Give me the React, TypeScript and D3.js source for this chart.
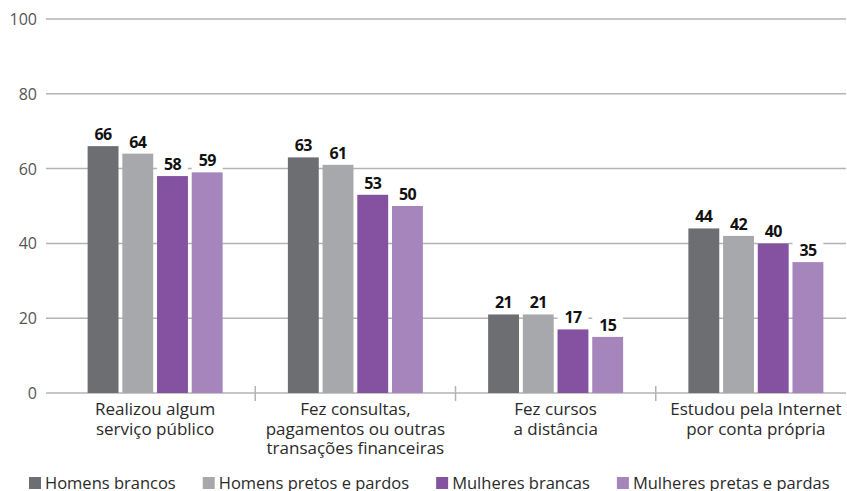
import React, { useEffect, useRef } from "react";
import * as d3 from "d3";

const categories: string[][] = [
  ["Realizou algum", "serviço público"],
  ["Fez consultas,", "pagamentos ou outras", "transações financeiras"],
  ["Fez cursos", "a distância"],
  ["Estudou pela Internet", "por conta própria"],
];
const seriesNames = [
  "Homens brancos",
  "Homens pretos e pardos",
  "Mulheres brancas",
  "Mulheres pretas e pardas",
];
const homensBrancos = [66, 63, 21, 44];
const homensPretos = [64, 61, 21, 42];
const mulheresBrancas = [58, 53, 17, 40];
const mulheresPretas = [59, 50, 15, 35];
const seriesValues = [homensBrancos, homensPretos, mulheresBrancas, mulheresPretas];
const colors = ["#6d6e72", "#a7a8ab", "#8452a1", "#a685bd"];
const yTicks = [0, 20, 40, 60, 80, 100];

const W = 847;
const H = 491;
const FONT = "'Open Sans', sans-serif";

export default function App() {
  const ref = useRef<SVGSVGElement | null>(null);

  useEffect(() => {
    const svg = d3.select(ref.current);
    svg.selectAll("*").remove();

    const y = d3.scaleLinear().domain([0, 100]).range([393, 19]);
    const x0 = d3
      .scaleBand<number>()
      .domain(d3.range(categories.length))
      .range([55, 856])
      .padding(0);
    const groupW = 135;
    const x1 = d3
      .scaleBand<number>()
      .domain(d3.range(seriesNames.length))
      .range([0, groupW])
      .paddingInner(0.11);

    const gridColor = "#b3b3b3";

    svg
      .append("g")
      .selectAll("line")
      .data(yTicks)
      .join("line")
      .attr("x1", 46)
      .attr("x2", 846)
      .attr("y1", (d) => y(d))
      .attr("y2", (d) => y(d))
      .attr("stroke", gridColor)
      .attr("stroke-width", 1.5);

    svg
      .append("g")
      .selectAll("text")
      .data(yTicks)
      .join("text")
      .attr("x", 37)
      .attr("y", (d) => y(d) + 6)
      .attr("text-anchor", "end")
      .attr("font-family", FONT)
      .attr("font-size", 16)
      .attr("fill", "#555")
      .text((d) => d);

    svg
      .append("g")
      .selectAll("line")
      .data(d3.range(1, categories.length))
      .join("line")
      .attr("x1", (i) => x0(i)!)
      .attr("x2", (i) => x0(i)!)
      .attr("y1", y(0) - 7)
      .attr("y2", y(0) + 8)
      .attr("stroke", gridColor)
      .attr("stroke-width", 1.5);

    const groups = svg
      .append("g")
      .selectAll("g")
      .data(categories.map((_, i) => i))
      .join("g")
      .attr(
        "transform",
        (i) => `translate(${x0(i)! + (x0.bandwidth() - groupW) / 2},0)`
      );

    seriesValues.forEach((vals, s) => {
      groups.each(function (ci) {
        const g = d3.select(this);
        const v = vals[ci];
        const bx = x1(s)!;
        g.append("rect")
          .attr("x", bx)
          .attr("y", y(v) - 22)
          .attr("width", x1.bandwidth())
          .attr("height", 22)
          .attr("fill", "#fff");
      });
    });
    seriesValues.forEach((vals, s) => {
      groups.each(function (ci) {
        const g = d3.select(this);
        const v = vals[ci];
        const bx = x1(s)!;
        g.append("rect")
          .attr("x", bx)
          .attr("y", y(v))
          .attr("width", x1.bandwidth())
          .attr("height", y(0) - y(v))
          .attr("fill", colors[s]);
        g.append("text")
          .attr("x", bx + x1.bandwidth() / 2)
          .attr("y", y(v) - 6)
          .attr("text-anchor", "middle")
          .attr("font-family", FONT)
          .attr("font-weight", 700)
          .attr("font-size", 16)
          .attr("letter-spacing", -0.7)
          .attr("fill", "#111")
          .text(v);
      });
    });

    const cl = svg.append("g");
    categories.forEach((lines, i) => {
      const cx = x0(i)! + x0.bandwidth() / 2;
      lines.forEach((ln, j) => {
        cl.append("text")
          .attr("x", cx)
          .attr("y", 415 + j * 19.5)
          .attr("text-anchor", "middle")
          .attr("font-family", FONT)
          .attr("font-size", 17)
          .attr("fill", "#2a2a2a")
          .text(ln);
      });
    });

    const lg = svg.append("g");
    let lx = 29;
    seriesNames.forEach((name, i) => {
      lg.append("rect")
        .attr("x", lx)
        .attr("y", 477)
        .attr("width", 12)
        .attr("height", 12)
        .attr("fill", colors[i]);
      const t = lg
        .append("text")
        .attr("x", lx + 16)
        .attr("y", 489)
        .attr("font-family", FONT)
        .attr("font-size", 16.5)
        .attr("fill", "#2a2a2a")
        .text(name);
      const w = (t.node() as SVGTextElement).getComputedTextLength();
      lx = lx + 16 + w + 27;
    });
  }, []);

  return (
    <svg
      ref={ref}
      width={W}
      height={H}
      style={{ position: "absolute", left: 0, top: 0, background: "#fff" }}
    />
  );
}
